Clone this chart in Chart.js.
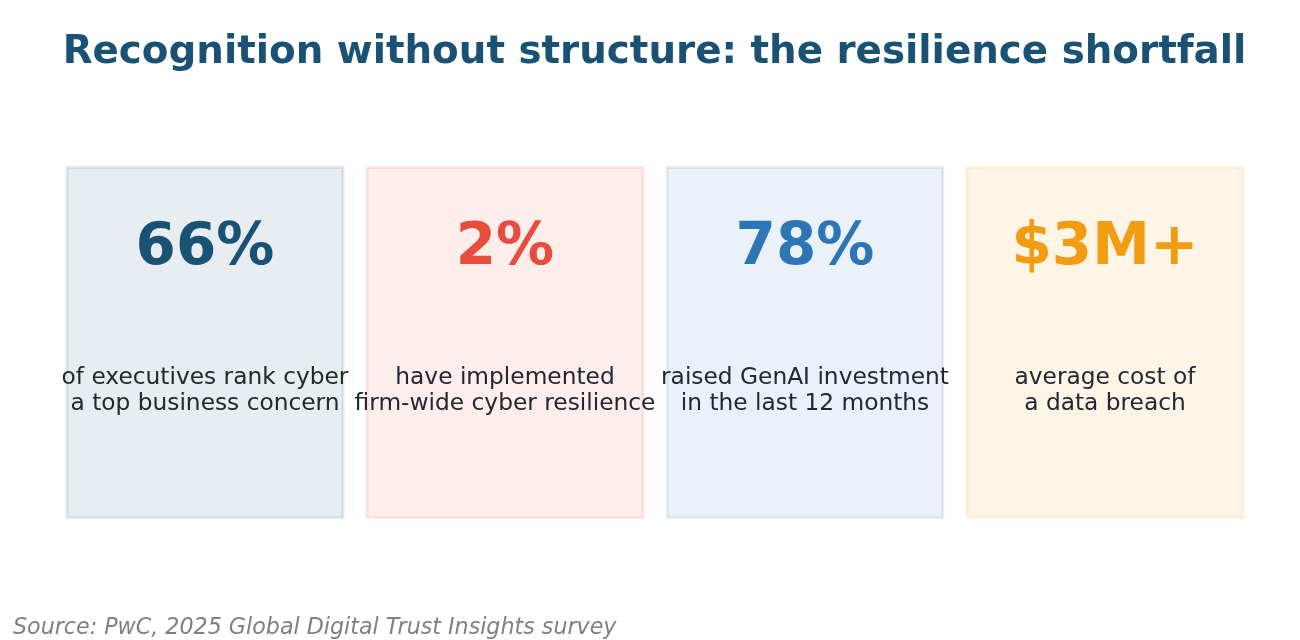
<!DOCTYPE html>
<html>
<head>
<meta charset="utf-8">
<script src="https://cdn.jsdelivr.net/npm/chart.js@4"></script>
<style>
html,body{margin:0;padding:0;background:#fff;}
#wrap{position:relative;width:1300px;height:640px;}
</style>
</head>
<body>
<div id="wrap"><canvas id="c" width="1300" height="640"></canvas></div>
<script>
const titleText = "Recognition without structure: the resilience shortfall";
const sourceText = "Source: PwC, 2025 Global Digital Trust Insights survey";
const categories = ["executives", "implemented", "genai", "breach"];
const kpiValues = ["66%", "2%", "78%", "$3M+"];
const kpiLabels = [
  ["of executives rank cyber", "a top business concern"],
  ["have implemented", "firm-wide cyber resilience"],
  ["raised GenAI investment", "in the last 12 months"],
  ["average cost of", "a data breach"]
];
const kpiColors = ["#1a5276", "#e74c3c", "#2e75b6", "#f39c12"];

function rgba(hex, a){
  const n = parseInt(hex.slice(1),16);
  return `rgba(${(n>>16)&255},${(n>>8)&255},${n&255},${a})`;
}

const FONT = "'DejaVu Sans', sans-serif";

const cardPlugin = {
  id: 'cards',
  afterDatasetsDraw(chart){
    const ctx = chart.ctx;
    const meta = chart.getDatasetMeta(0);
    const ys = chart.scales.y;
    ctx.save();
    meta.data.forEach((bar, i) => {
      const p = bar.getProps(['x','y','base','width'], true);
      const left = p.x - p.width/2, right = p.x + p.width/2;
      const top = Math.min(p.y, p.base), bottom = Math.max(p.y, p.base);
      ctx.strokeStyle = rgba(kpiColors[i], 0.12);
      ctx.lineWidth = 3;
      ctx.strokeRect(left, top, right-left, bottom-top);
      ctx.textAlign = 'center';
      ctx.textBaseline = 'middle';
      ctx.fillStyle = kpiColors[i];
      ctx.font = `bold 58px ${FONT}`;
      ctx.fillText(kpiValues[i], p.x, ys.getPixelForValue(0.768));
      ctx.fillStyle = '#222831';
      ctx.font = `23.3px ${FONT}`;
      const mid = ys.getPixelForValue(0.362);
      const lh = 26.5;
      const lines = kpiLabels[i];
      lines.forEach((ln, k) => {
        ctx.fillText(ln, p.x, mid + (k - (lines.length-1)/2) * lh);
      });
    });
    // title
    ctx.textAlign = 'center';
    ctx.textBaseline = 'middle';
    ctx.fillStyle = '#1a5276';
    ctx.font = `bold 38.8px ${FONT}`;
    ctx.fillText(titleText, 654.5, 53);
    // source
    ctx.textAlign = 'left';
    ctx.textBaseline = 'alphabetic';
    ctx.fillStyle = '#808080';
    ctx.font = `italic 22.2px ${FONT}`;
    ctx.fillText(sourceText, 13, 634);
    ctx.restore();
  }
};

new Chart(document.getElementById('c'), {
  type: 'bar',
  data: {
    labels: categories,
    datasets: [{
      data: categories.map(() => [0, 1]),
      backgroundColor: kpiColors.map(c => rgba(c, 0.1)),
      borderWidth: 0,
      categoryPercentage: 1,
      barPercentage: 0.92
    }]
  },
  options: {
    responsive: false,
    animation: false,
    devicePixelRatio: 1,
    layout: { padding: { left: 55, right: 45, top: 167.5, bottom: 122.5 } },
    plugins: { legend: { display: false }, tooltip: { enabled: false }, title: { display: false } },
    scales: {
      x: { display: false },
      y: { display: false, min: 0, max: 1 }
    }
  },
  plugins: [cardPlugin]
});
</script>
</body>
</html>
